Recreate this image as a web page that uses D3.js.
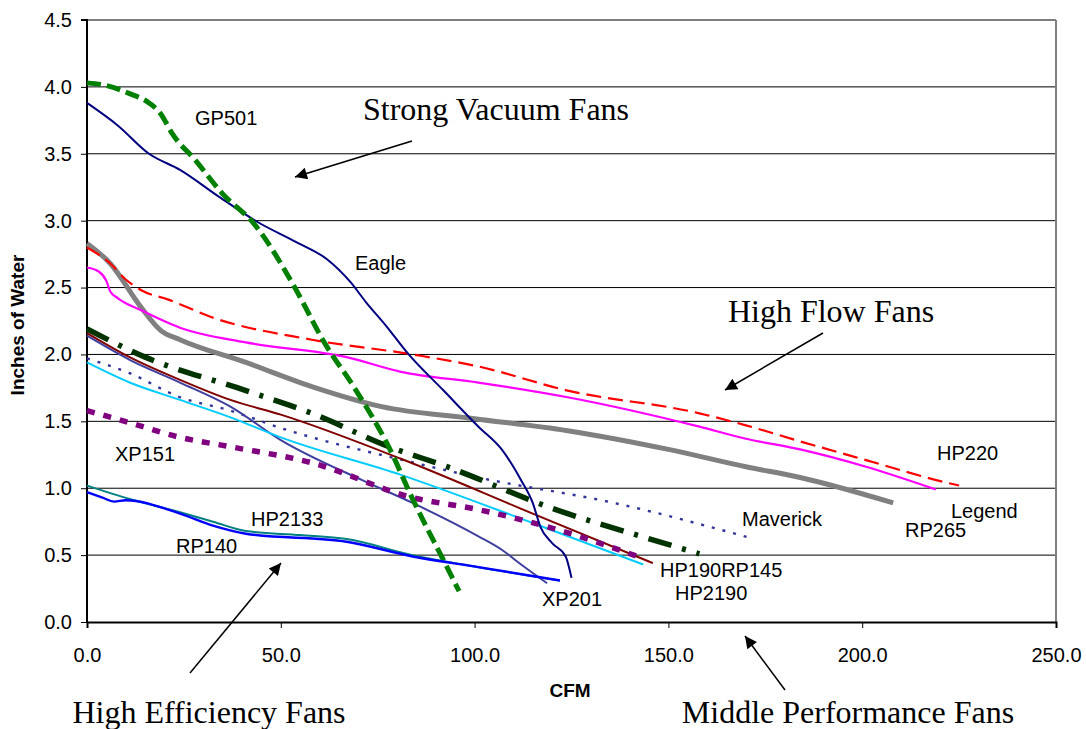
<!DOCTYPE html>
<html><head><meta charset="utf-8">
<script src="https://cdn.jsdelivr.net/npm/d3@7/dist/d3.min.js"></script>
<style>body{margin:0;background:#fff;}svg{display:block;}</style>
</head><body>
<svg id="chart" width="1086" height="729"></svg>
<script>
// ---- data ----
const xTicks = [0, 50, 100, 150, 200, 250];
const yTicks = [0, 0.5, 1, 1.5, 2, 2.5, 3, 3.5, 4, 4.5];
const seriesNames = ["GP501","Eagle","HP220","RP265","Legend","RP145","HP190","HP2190","Maverick","XP201","XP151","HP2133","RP140"];
const GP501 = [[0,4.03],[5,4.01],[11,3.95],[16,3.88],[19,3.8],[22,3.65],[28,3.45],[35,3.2],[43,2.98],[54,2.48],[61,2.1],[69,1.75],[78,1.3],[84,0.92],[92,0.46],[96,0.23]];
const Eagle = [[0,3.88],[8,3.71],[16,3.5],[24,3.38],[34,3.18],[44,2.99],[54,2.84],[62,2.71],[68,2.54],[72,2.39],[77,2.22],[83,2.0],[92,1.73],[101,1.46],[107,1.29],[112,1.06],[115,0.89],[117,0.71],[120,0.59],[123.5,0.49],[125,0.33]];
const HP220 = [[0,2.8],[6,2.68],[10,2.56],[14,2.48],[21,2.41],[32,2.28],[58,2.11],[84,2.0],[101,1.91],[124,1.73],[158,1.56],[170,1.47],[184,1.35],[201,1.21],[222,1.04],[225,1.02]];
const RP265 = [[0,2.83],[6,2.68],[14,2.35],[19,2.18],[24,2.11],[41,1.94],[58,1.76],[76,1.61],[100,1.52],[124,1.43],[150,1.29],[170,1.16],[184,1.08],[208,0.89]];
const Legend = [[0,2.65],[3,2.62],[5,2.55],[6,2.47],[8,2.42],[14,2.33],[24,2.2],[41,2.09],[67,1.98],[81,1.87],[101,1.79],[124,1.68],[158,1.46],[170,1.37],[184,1.29],[201,1.16],[219,0.99]];
const RP145 = [[0,2.19],[15,1.98],[41,1.73],[58,1.56],[78,1.31],[93,1.16],[120,0.85],[143,0.64],[158,0.51]];
const HP190 = [[0,2.16],[11,1.98],[24,1.81],[37,1.66],[50,1.55],[81,1.22],[115,0.81],[146,0.44]];
const HP2190 = [[0,1.94],[11,1.79],[24,1.66],[37,1.53],[50,1.38],[81,1.1],[115,0.74],[143.5,0.43]];
const Maverick = [[0,1.97],[11,1.86],[24,1.68],[37,1.58],[50,1.45],[83,1.2],[101,1.08],[136,0.89],[171,0.63]];
const XP201 = [[0,2.14],[11,1.96],[24,1.79],[37,1.61],[50,1.36],[71,1.06],[84,0.89],[101,0.64],[107,0.54],[112,0.43],[118.7,0.29]];
const XP151 = [[0,1.58],[11,1.49],[24,1.38],[37,1.31],[58,1.19],[84,0.93],[101,0.84],[127,0.64],[142,0.49]];
const HP2133 = [[0,1.02],[11,0.92],[24,0.82],[32.5,0.75],[41,0.68],[55,0.65],[67,0.62],[84,0.5],[101,0.41],[122,0.31]];
const RP140 = [[0,0.97],[4,0.93],[7,0.9],[10,0.91],[24,0.81],[32.5,0.72],[41,0.66],[67,0.6],[84,0.49],[101,0.41],[122,0.31]];

// ---- styles ----
const styles = {
  GP501:{c:"#008000",w:5,d:"14,6"},
  Eagle:{c:"#000080",w:2,d:null},
  HP220:{c:"#FF0000",w:2.2,d:"15,7"},
  RP265:{c:"#808080",w:5,d:null},
  Legend:{c:"#FF00FF",w:2.2,d:null},
  RP145:{c:"#003300",w:5.5,d:"24,11,4,11"},
  HP190:{c:"#800000",w:2,d:null},
  HP2190:{c:"#00CCFF",w:2,d:null},
  Maverick:{c:"#333399",w:2.4,d:"3,8"},
  XP201:{c:"#3F3F9F",w:2,d:null},
  XP151:{c:"#800080",w:5.5,d:"8,9"},
  HP2133:{c:"#008080",w:2,d:null},
  RP140:{c:"#0000FF",w:2.4,d:null}
};
const dataMap = {GP501,Eagle,HP220,RP265,Legend,RP145,HP190,HP2190,Maverick,XP201,XP151,HP2133,RP140};

const svg = d3.select("#chart");
const L=87,R=1056,T=20,B=622;
const x = d3.scaleLinear().domain([0,250]).range([L,R]);
const y = d3.scaleLinear().domain([0,4.5]).range([B,T]);
const SANS = "Liberation Sans, Arial, sans-serif";

// gridlines
svg.append("g").selectAll("line").data(yTicks.filter(v=>v>0&&v<4.5)).join("line")
  .attr("x1",L).attr("x2",R).attr("y1",d=>y(d)).attr("y2",d=>y(d))
  .attr("stroke","#000").attr("stroke-width",1);
// frame top/right
svg.append("line").attr("x1",L).attr("x2",R).attr("y1",T).attr("y2",T).attr("stroke","#808080").attr("stroke-width",2);
svg.append("line").attr("x1",R).attr("x2",R).attr("y1",T).attr("y2",B).attr("stroke","#808080").attr("stroke-width",2);

// axes
const xAxis = d3.axisBottom(x).tickValues(xTicks).tickFormat(d3.format(".1f")).tickSize(6).tickPadding(20);
const yAxis = d3.axisLeft(y).tickValues(yTicks).tickFormat(d3.format(".1f")).tickSize(6).tickPadding(9);
const gx = svg.append("g").attr("transform",`translate(0,${B})`).call(xAxis);
const gy = svg.append("g").attr("transform",`translate(${L},0)`).call(yAxis);
[gx,gy].forEach(g=>{
  g.select(".domain").attr("stroke","#000").attr("stroke-width",2);
  g.selectAll(".tick line").attr("stroke","#000");
  g.selectAll("text").attr("font-family",SANS).attr("font-size",20).attr("fill","#000");
});
gy.select(".domain").attr("d",`M-6,${T}H0V${B}`);

// lines
const line = d3.line().x(d=>x(d[0])).y(d=>y(d[1])).curve(d3.curveMonotoneX);
const order = ["Maverick","XP201","HP190","HP2190","XP151","RP145","RP265","HP220","Legend","Eagle","GP501","HP2133","RP140"];
svg.append("g").selectAll("path").data(order).join("path")
  .attr("d",n=>line(dataMap[n]))
  .attr("fill","none")
  .attr("stroke",n=>styles[n].c)
  .attr("stroke-width",n=>styles[n].w)
  .attr("stroke-dasharray",n=>styles[n].d)
  .attr("stroke-linejoin","round");

// series labels
const labels = [
  {t:"GP501",x:195,y:125},{t:"Eagle",x:355,y:270},{t:"XP151",x:115,y:461},
  {t:"HP2133",x:251,y:526},{t:"RP140",x:176,y:553},{t:"XP201",x:542,y:606},
  {t:"HP190RP145",x:660,y:577},{t:"HP2190",x:675,y:600},{t:"Maverick",x:742,y:526},
  {t:"RP265",x:905,y:537},{t:"Legend",x:951,y:518},{t:"HP220",x:937,y:460}
];
svg.append("g").selectAll("text").data(labels).join("text")
  .attr("x",d=>d.x).attr("y",d=>d.y).text(d=>d.t)
  .attr("font-family",SANS).attr("font-size",20).attr("fill","#000");

// axis titles
svg.append("text").attr("x",570).attr("y",697).attr("text-anchor","middle")
  .attr("font-family",SANS).attr("font-weight","bold").attr("font-size",19).text("CFM");
svg.append("text").attr("transform","translate(24,325) rotate(-90)").attr("text-anchor","middle")
  .attr("font-family",SANS).attr("font-weight","bold").attr("font-size",19).text("Inches of Water");

// annotations
const defs = svg.append("defs");
defs.append("marker").attr("id","ah").attr("viewBox","0 0 10 10").attr("refX",10).attr("refY",5)
  .attr("markerWidth",14).attr("markerHeight",12).attr("markerUnits","userSpaceOnUse").attr("orient","auto")
  .append("path").attr("d","M0,0L10,5L0,10Z").attr("fill","#000");
const notes = [
  {t:"Strong Vacuum Fans",x:496,y:120,x1:412,y1:141,x2:295,y2:177},
  {t:"High Flow Fans",x:831,y:322,x1:823,y1:333,x2:725,y2:390},
  {t:"High Efficiency Fans",x:209,y:723,x1:190,y1:673,x2:281,y2:563},
  {t:"Middle Performance Fans",x:848,y:723,x1:785,y1:690,x2:745,y2:636}
];
svg.append("g").selectAll("line").data(notes).join("line")
  .attr("x1",d=>d.x1).attr("y1",d=>d.y1).attr("x2",d=>d.x2).attr("y2",d=>d.y2)
  .attr("stroke","#000").attr("stroke-width",1.5).attr("marker-end","url(#ah)");
svg.append("g").selectAll("text").data(notes).join("text")
  .attr("x",d=>d.x).attr("y",d=>d.y).attr("text-anchor","middle").text(d=>d.t)
  .attr("font-family","Liberation Serif, Times New Roman, serif").attr("font-size",32).attr("fill","#000");
</script>
</body></html>
